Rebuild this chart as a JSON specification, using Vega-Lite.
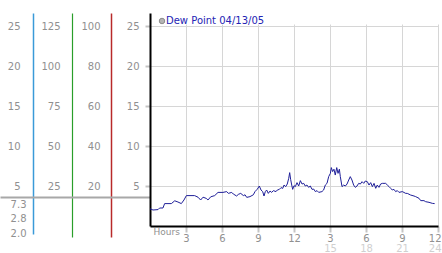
{
  "$schema": "https://vega.github.io/schema/vega-lite/v6.json",
  "width": 288,
  "height": 202,
  "autosize": {"type": "none"},
  "padding": {"left": 150, "top": 24, "right": 4, "bottom": 27},
  "background": "white",
  "config": {
    "view": {"stroke": null},
    "font": "DejaVu Sans",
    "axis": {"labelFont": "DejaVu Sans", "titleFont": "DejaVu Sans"},
    "legend": {"labelFont": "DejaVu Sans"}
  },
  "data": {
    "values": [
      {"hour": 0, "dewpoint": 2.15}, {"hour": 0.25, "dewpoint": 2.0}, {"hour": 0.67, "dewpoint": 2.05},
      {"hour": 0.8, "dewpoint": 2.25}, {"hour": 1.08, "dewpoint": 2.25}, {"hour": 1.22, "dewpoint": 2.8},
      {"hour": 1.78, "dewpoint": 2.8}, {"hour": 2.06, "dewpoint": 3.15}, {"hour": 2.33, "dewpoint": 3.0},
      {"hour": 2.61, "dewpoint": 2.8}, {"hour": 2.83, "dewpoint": 3.25}, {"hour": 3.03, "dewpoint": 3.8},
      {"hour": 3.72, "dewpoint": 3.8}, {"hour": 4.0, "dewpoint": 3.6}, {"hour": 4.22, "dewpoint": 3.25},
      {"hour": 4.42, "dewpoint": 3.6}, {"hour": 4.69, "dewpoint": 3.45}, {"hour": 4.83, "dewpoint": 3.25},
      {"hour": 5.06, "dewpoint": 3.65}, {"hour": 5.39, "dewpoint": 3.8}, {"hour": 5.67, "dewpoint": 4.2},
      {"hour": 6.08, "dewpoint": 4.2}, {"hour": 6.39, "dewpoint": 4.3}, {"hour": 6.53, "dewpoint": 4.08},
      {"hour": 6.81, "dewpoint": 4.2}, {"hour": 6.94, "dewpoint": 4.0}, {"hour": 7.22, "dewpoint": 3.75},
      {"hour": 7.36, "dewpoint": 3.95}, {"hour": 7.56, "dewpoint": 4.08}, {"hour": 7.78, "dewpoint": 3.8},
      {"hour": 7.92, "dewpoint": 3.9}, {"hour": 8.06, "dewpoint": 3.58}, {"hour": 8.33, "dewpoint": 3.67},
      {"hour": 8.61, "dewpoint": 3.9}, {"hour": 8.75, "dewpoint": 4.3}, {"hour": 8.94, "dewpoint": 4.6},
      {"hour": 9.11, "dewpoint": 5.0}, {"hour": 9.25, "dewpoint": 4.5}, {"hour": 9.39, "dewpoint": 4.3},
      {"hour": 9.5, "dewpoint": 3.75}, {"hour": 9.61, "dewpoint": 4.3}, {"hour": 9.72, "dewpoint": 4.5},
      {"hour": 9.86, "dewpoint": 4.08}, {"hour": 10.0, "dewpoint": 4.37}, {"hour": 10.14, "dewpoint": 4.2},
      {"hour": 10.28, "dewpoint": 4.42}, {"hour": 10.5, "dewpoint": 4.3}, {"hour": 10.61, "dewpoint": 4.5},
      {"hour": 10.78, "dewpoint": 4.58}, {"hour": 10.92, "dewpoint": 4.8}, {"hour": 11.06, "dewpoint": 4.7},
      {"hour": 11.17, "dewpoint": 5.12}, {"hour": 11.31, "dewpoint": 4.92}, {"hour": 11.44, "dewpoint": 5.25},
      {"hour": 11.56, "dewpoint": 5.96}, {"hour": 11.64, "dewpoint": 6.67}, {"hour": 11.72, "dewpoint": 5.83},
      {"hour": 11.81, "dewpoint": 5.12}, {"hour": 11.89, "dewpoint": 4.58}, {"hour": 12.0, "dewpoint": 5.04},
      {"hour": 12.11, "dewpoint": 4.92}, {"hour": 12.25, "dewpoint": 5.42}, {"hour": 12.39, "dewpoint": 5.0},
      {"hour": 12.53, "dewpoint": 5.67}, {"hour": 12.67, "dewpoint": 5.25}, {"hour": 12.81, "dewpoint": 5.33},
      {"hour": 12.94, "dewpoint": 5.0}, {"hour": 13.08, "dewpoint": 5.12}, {"hour": 13.22, "dewpoint": 4.83},
      {"hour": 13.36, "dewpoint": 5.0}, {"hour": 13.5, "dewpoint": 4.58}, {"hour": 13.64, "dewpoint": 4.62},
      {"hour": 13.78, "dewpoint": 4.3}, {"hour": 13.92, "dewpoint": 4.42}, {"hour": 14.06, "dewpoint": 4.2},
      {"hour": 14.33, "dewpoint": 4.3}, {"hour": 14.47, "dewpoint": 4.5}, {"hour": 14.61, "dewpoint": 5.12},
      {"hour": 14.75, "dewpoint": 5.33}, {"hour": 14.89, "dewpoint": 6.17}, {"hour": 15.03, "dewpoint": 6.58},
      {"hour": 15.11, "dewpoint": 7.3}, {"hour": 15.22, "dewpoint": 6.8}, {"hour": 15.33, "dewpoint": 7.1},
      {"hour": 15.44, "dewpoint": 6.37}, {"hour": 15.56, "dewpoint": 7.3}, {"hour": 15.67, "dewpoint": 6.58},
      {"hour": 15.78, "dewpoint": 7.1}, {"hour": 15.86, "dewpoint": 6.17}, {"hour": 16.0, "dewpoint": 4.92},
      {"hour": 16.14, "dewpoint": 5.12}, {"hour": 16.28, "dewpoint": 5.0}, {"hour": 16.42, "dewpoint": 5.25},
      {"hour": 16.56, "dewpoint": 5.75}, {"hour": 16.69, "dewpoint": 6.17}, {"hour": 16.83, "dewpoint": 5.75},
      {"hour": 16.97, "dewpoint": 5.12}, {"hour": 17.11, "dewpoint": 4.83}, {"hour": 17.25, "dewpoint": 5.0},
      {"hour": 17.39, "dewpoint": 5.33}, {"hour": 17.53, "dewpoint": 5.25}, {"hour": 17.67, "dewpoint": 5.54},
      {"hour": 17.81, "dewpoint": 5.33}, {"hour": 17.94, "dewpoint": 5.62}, {"hour": 18.11, "dewpoint": 5.54},
      {"hour": 18.25, "dewpoint": 5.12}, {"hour": 18.39, "dewpoint": 5.42}, {"hour": 18.53, "dewpoint": 4.92},
      {"hour": 18.67, "dewpoint": 5.33}, {"hour": 18.81, "dewpoint": 4.71}, {"hour": 18.94, "dewpoint": 5.12},
      {"hour": 19.08, "dewpoint": 4.83}, {"hour": 19.22, "dewpoint": 5.25}, {"hour": 19.36, "dewpoint": 5.33},
      {"hour": 19.64, "dewpoint": 5.33}, {"hour": 19.78, "dewpoint": 5.12}, {"hour": 19.92, "dewpoint": 4.92},
      {"hour": 20.06, "dewpoint": 4.71}, {"hour": 20.19, "dewpoint": 4.5}, {"hour": 20.33, "dewpoint": 4.58},
      {"hour": 20.47, "dewpoint": 4.3}, {"hour": 20.61, "dewpoint": 4.42}, {"hour": 20.75, "dewpoint": 4.2},
      {"hour": 21.03, "dewpoint": 4.3}, {"hour": 21.31, "dewpoint": 4.08}, {"hour": 21.44, "dewpoint": 4.08},
      {"hour": 21.72, "dewpoint": 3.87}, {"hour": 22.0, "dewpoint": 3.75}, {"hour": 22.14, "dewpoint": 3.67},
      {"hour": 22.42, "dewpoint": 3.46}, {"hour": 22.56, "dewpoint": 3.17}, {"hour": 22.83, "dewpoint": 3.17},
      {"hour": 22.97, "dewpoint": 3.04}, {"hour": 23.25, "dewpoint": 2.96}, {"hour": 23.53, "dewpoint": 2.83},
      {"hour": 23.72, "dewpoint": 2.8}
    ]
  },
  "layer": [
    {
      "mark": {"type": "line", "color": "#1f1f99", "strokeWidth": 1},
      "encoding": {
        "x": {
          "field": "hour", "type": "quantitative",
          "scale": {"domain": [0, 24], "nice": false, "zero": false},
          "axis": {
            "orient": "bottom", "values": [3, 6, 9, 12, 15, 18, 21, 24],
            "labelExpr": "datum.value > 12 ? '' + (datum.value - 12) : datum.label",
            "grid": true, "gridColor": "#d6d6d6",
            "domainColor": "#000000", "domainWidth": 2,
            "tickColor": "#c4c4c4", "tickWidth": 2, "tickSize": 6,
            "labelColor": "#909090", "labelFontSize": 10, "labelPadding": 1,
            "labelFlush": 1, "labelFlushOffset": 3, "labelOverlap": false,
            "title": "Hours", "titleX": 3, "titleY": 8, "titleAlign": "left",
            "titleBaseline": "alphabetic", "titleFontSize": 9, "titleFontWeight": "normal",
            "titleColor": "#909090"
          }
        },
        "y": {
          "field": "dewpoint", "type": "quantitative",
          "scale": {"domain": [0, 25.25], "nice": false, "zero": false},
          "axis": {
            "orient": "left", "values": [5, 10, 15, 20, 25],
            "domain": false,
            "tickColor": "#c4c4c4", "tickSize": 5, "tickWidth": 2,
            "labelPadding": 6, "labelColor": "#909090", "labelFontSize": 10,
            "grid": true, "gridColor": "#d6d6d6", "title": null
          }
        }
      }
    },
    {
      "mark": {"type": "point", "opacity": 0},
      "encoding": {
        "x": {
          "field": "hour", "type": "quantitative",
          "axis": {
            "orient": "bottom", "values": [15, 18, 21, 24],
            "domain": false, "ticks": false, "tickSize": 0, "grid": false,
            "labelColor": "#d0d0d0", "labelPadding": 17, "labelFontSize": 10,
            "labelFlush": 1, "labelFlushOffset": 3, "labelOverlap": false, "title": null
          }
        }
      }
    },
    {
      "data": {"values": [{}]},
      "mark": {"type": "point", "opacity": 0},
      "encoding": {
        "y": {
          "datum": 0, "type": "quantitative",
          "scale": {"domain": [-1, 26.625], "range": [210, -11], "nice": false, "zero": false},
          "axis": {
            "orient": "left", "offset": 117, "values": [5, 10, 15, 20, 25],
            "domainColor": "#3a9ad8", "domainWidth": 1.5, "domainOpacity": 1, "ticks": false, "tickSize": 0, "grid": false,
            "labelPadding": 13, "labelColor": "#909090", "labelFontSize": 10, "title": null
          }
        }
      }
    },
    {
      "data": {"values": [{}]},
      "mark": {"type": "point", "opacity": 0},
      "encoding": {
        "y": {
          "datum": 0, "type": "quantitative",
          "scale": {"domain": [-6.875, 133.125], "range": [213, -11], "nice": false, "zero": false},
          "axis": {
            "orient": "left", "offset": 78, "values": [25, 50, 75, 100, 125],
            "domainColor": "#2a9e2a", "domainWidth": 1.2, "domainOpacity": 1, "ticks": false, "tickSize": 0, "grid": false,
            "labelPadding": 12, "labelColor": "#909090", "labelFontSize": 10, "title": null
          }
        }
      }
    },
    {
      "data": {"values": [{}]},
      "mark": {"type": "point", "opacity": 0},
      "encoding": {
        "y": {
          "datum": 0, "type": "quantitative",
          "scale": {"domain": [-5.5, 106.5], "range": [213, -11], "nice": false, "zero": false},
          "axis": {
            "orient": "left", "offset": 39, "values": [20, 40, 60, 80, 100],
            "domainColor": "#b82a2a", "domainWidth": 1.5, "domainOpacity": 1, "ticks": false, "tickSize": 0, "grid": false,
            "labelPadding": 11, "labelColor": "#909090", "labelFontSize": 10, "title": null
          }
        }
      }
    },
    {
      "data": {"values": [{"stat": "max", "reading": "7.3"}, {"stat": "last", "reading": "2.8"}, {"stat": "min", "reading": "2.0"}]},
      "mark": {"type": "point", "opacity": 0},
      "encoding": {
        "y": {
          "field": "reading", "type": "nominal", "sort": null,
          "scale": {"type": "point", "domain": ["7.3", "2.8", "2.0"], "range": [180, 209], "padding": 0},
          "axis": {
            "orient": "left", "offset": 117, "domain": false, "ticks": false, "tickSize": 0, "grid": false,
            "labelPadding": 7, "labelColor": "#909090", "labelFontSize": 10, "title": null
          }
        }
      }
    },
    {
      "data": {"values": [{}]},
      "mark": {"type": "point", "opacity": 0},
      "encoding": {
        "y": {
          "datum": 0, "type": "quantitative",
          "scale": {"domain": [0, 26.625], "range": [202, -11], "nice": false, "zero": false},
          "axis": {
            "orient": "left", "offset": 0, "values": [3.625], "grid": false,
            "domain": true, "domainColor": "#000000", "domainWidth": 2,
            "labels": false, "tickSize": 150, "tickWidth": 2, "tickColor": "#a8a8a8", "title": null
          }
        }
      }
    },
    {
      "data": {"values": [{}]},
      "mark": {"type": "point", "filled": true, "opacity": 0},
      "encoding": {
        "color": {
          "datum": "Dew Point 04/13/05",
          "scale": {"domain": ["Dew Point 04/13/05"], "range": ["#b4b4b4"]},
          "legend": {
            "orient": "none", "legendX": 7, "legendY": -8, "title": null, "padding": 0,
            "symbolType": "circle", "symbolSize": 30, "symbolOpacity": 1,
            "symbolStrokeColor": "#8c8c8c", "symbolStrokeWidth": 1,
            "labelColor": "#2424b4", "labelFontSize": 10, "labelOffset": -1
          }
        }
      }
    }
  ],
  "resolve": {
    "scale": {"y": "independent"},
    "axis": {"y": "independent", "x": "independent"}
  }
}
